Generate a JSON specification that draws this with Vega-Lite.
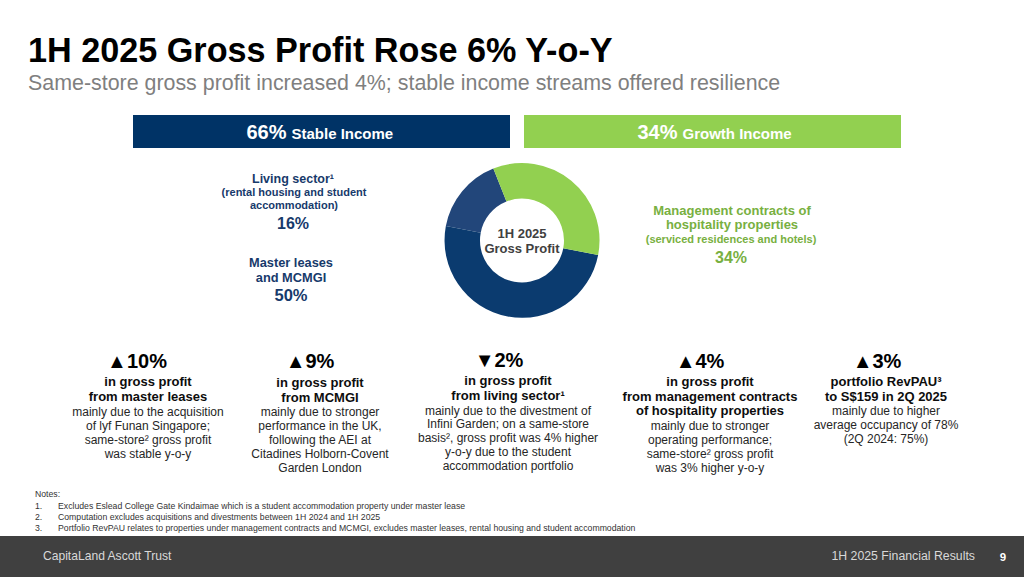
{
  "$schema": "https://vega.github.io/schema/vega-lite/v6.json",
  "width": 1024,
  "height": 577,
  "autosize": {"type": "none"},
  "padding": 0,
  "background": "#ffffff",
  "config": {"view": {"stroke": null}, "font": "Liberation Sans", "text": {"font": "Liberation Sans", "baseline": "alphabetic"}},
  "datasets": {
    "slide": [
      {"part": "title", "text": "1H 2025 Gross Profit Rose 6% Y-o-Y"},
      {"part": "subtitle", "text": "Same-store gross profit increased 4%; stable income streams offered resilience"},
      {"part": "center", "text": ["1H 2025", "Gross Profit"]},
      {"part": "notesHead", "text": "Notes:"},
      {"part": "noteNums", "text": ["1.", "2.", "3."]},
      {"part": "notes", "text": ["Excludes Eslead College Gate Kindaimae which is a student accommodation property under master lease", "Computation excludes acquisitions and divestments between 1H 2024 and 1H 2025", "Portfolio RevPAU relates to properties under management contracts and MCMGI, excludes master leases, rental housing and student accommodation"]},
      {"part": "footerLeft", "text": "CapitaLand Ascott Trust"},
      {"part": "footerRight", "text": "1H 2025 Financial Results"},
      {"part": "page", "text": "9"}
    ],
    "income": [
      {"stream": "Stable Income", "share": 0.66},
      {"stream": "Growth Income", "share": 0.34}
    ],
    "segments": [
      {"segment": "Living sector", "title": ["Living sector¹"], "detail": ["(rental housing and student", "accommodation)"], "share": 0.16},
      {"segment": "Master leases and MCMGI", "title": ["Master leases", "and MCMGI"], "detail": [], "share": 0.50},
      {"segment": "Management contracts of hospitality properties", "title": ["Management contracts of", "hospitality properties"], "detail": ["(serviced residences and hotels)"], "share": 0.34}
    ],
    "drivers": [
      {"metric": "master leases", "change": "▲10%", "headline": ["in gross profit", "from master leases"], "detail": ["mainly due to the acquisition", "of lyf Funan Singapore;", "same-store² gross profit", "was stable y-o-y"]},
      {"metric": "MCMGI", "change": "▲9%", "headline": ["in gross profit", "from MCMGI"], "detail": ["mainly due to stronger", "performance in the UK,", "following the AEI at", "Citadines Holborn-Covent", "Garden London"]},
      {"metric": "living sector", "change": "▼2%", "headline": ["in gross profit", "from living sector¹"], "detail": ["mainly due to the divestment of", "Infini Garden; on a same-store", "basis², gross profit was 4% higher", "y-o-y due to the student", "accommodation portfolio"]},
      {"metric": "management contracts", "change": "▲4%", "headline": ["in gross profit", "from management contracts", "of hospitality properties"], "detail": ["mainly due to stronger", "operating performance;", "same-store² gross profit", "was 3% higher y-o-y"]},
      {"metric": "RevPAU", "change": "▲3%", "headline": ["portfolio RevPAU³", "to S$159 in 2Q 2025"], "detail": ["mainly due to higher", "average occupancy of 78%", "(2Q 2024: 75%)"]}
    ]
  },
  "layer": [
    {
      "data": {"name": "slide"},
      "transform": [{"filter": "datum.part === 'title'"}],
      "mark": {"type": "text", "x": 28, "y": 62, "align": "left", "fontSize": 34.2, "fontWeight": "bold", "color": "#000000"},
      "encoding": {"text": {"field": "text", "type": "nominal"}}
    },
    {
      "data": {"name": "slide"},
      "transform": [{"filter": "datum.part === 'subtitle'"}],
      "mark": {"type": "text", "x": 28, "y": 90, "align": "left", "fontSize": 21.4, "color": "#7f7f7f"},
      "encoding": {"text": {"field": "text", "type": "nominal"}}
    },
    {
      "data": {"name": "income"},
      "mark": {"type": "bar", "y": 115, "y2": 148},
      "encoding": {
        "x": {"field": "stream", "type": "nominal", "sort": ["Stable Income", "Growth Income"], "scale": {"range": [133, 901], "paddingInner": 0.0358, "paddingOuter": 0}, "axis": null},
        "color": {"field": "stream", "type": "nominal", "scale": {"domain": ["Stable Income", "Growth Income"], "range": ["#003366", "#92d050"]}, "legend": null}
      }
    },
    {
      "data": {"name": "income"},
      "mark": {"type": "text", "y": 139, "align": "right", "dx": -35, "fontSize": 20, "fontWeight": "bold", "color": "#ffffff"},
      "encoding": {
        "x": {"field": "stream", "type": "nominal", "sort": ["Stable Income", "Growth Income"], "axis": null},
        "text": {"field": "share", "type": "quantitative", "format": ".0%"}
      }
    },
    {
      "data": {"name": "income"},
      "mark": {"type": "text", "y": 139, "align": "left", "dx": -30, "fontSize": 15, "fontWeight": "bold", "color": "#ffffff"},
      "encoding": {
        "x": {"field": "stream", "type": "nominal", "sort": ["Stable Income", "Growth Income"], "axis": null},
        "text": {"field": "stream", "type": "nominal"}
      }
    },
    {
      "data": {"name": "segments"},
      "mark": {"type": "arc", "innerRadius": 42, "outerRadius": 77.5, "x": 522, "y": 240.5},
      "encoding": {
        "theta": {"field": "share", "type": "quantitative", "stack": true, "scale": {"range": [-1.384, 4.899]}},
        "order": {"field": "share", "type": "quantitative", "sort": "ascending"},
        "color": {"field": "segment", "type": "nominal", "scale": {"domain": ["Living sector", "Master leases and MCMGI", "Management contracts of hospitality properties"], "range": ["#22467a", "#0b3b6f", "#92d050"]}, "legend": null}
      }
    },
    {
      "data": {"name": "slide"},
      "transform": [{"filter": "datum.part === 'center'"}],
      "mark": {"type": "text", "x": 522, "y": 238, "align": "center", "fontSize": 13, "fontWeight": "bold", "lineHeight": 14.5, "color": "#404040"},
      "encoding": {"text": {"field": "text", "type": "nominal"}}
    },
    {
      "data": {"name": "segments"},
      "transform": [{"filter": "datum.segment === 'Living sector'"}],
      "layer": [
        {"mark": {"type": "text", "x": 293, "y": 183, "align": "center", "fontSize": 12.5, "fontWeight": "bold", "color": "#173a6b"}, "encoding": {"text": {"field": "title", "type": "nominal"}}},
        {"mark": {"type": "text", "x": 294, "y": 196, "align": "center", "fontSize": 11, "fontWeight": "bold", "lineHeight": 13, "color": "#173a6b"}, "encoding": {"text": {"field": "detail", "type": "nominal"}}},
        {"mark": {"type": "text", "x": 293, "y": 229, "align": "center", "fontSize": 16, "fontWeight": "bold", "color": "#173a6b"}, "encoding": {"text": {"field": "share", "type": "quantitative", "format": ".0%"}}},
        {"mark": {"type": "rule", "x": 397, "x2": 460, "y": 196.5, "y2": 196.5, "color": "#b0b0b0", "strokeWidth": 1}, "encoding": {}}
      ]
    },
    {
      "data": {"name": "segments"},
      "transform": [{"filter": "datum.segment === 'Master leases and MCMGI'"}],
      "layer": [
        {"mark": {"type": "text", "x": 291, "y": 266.5, "align": "center", "fontSize": 12.8, "fontWeight": "bold", "lineHeight": 15, "color": "#173a6b"}, "encoding": {"text": {"field": "title", "type": "nominal"}}},
        {"mark": {"type": "text", "x": 291, "y": 301, "align": "center", "fontSize": 16.5, "fontWeight": "bold", "color": "#173a6b"}, "encoding": {"text": {"field": "share", "type": "quantitative", "format": ".0%"}}},
        {"mark": {"type": "rule", "x": 373, "x2": 448, "y": 277.5, "y2": 277.5, "color": "#b0b0b0", "strokeWidth": 1}, "encoding": {}}
      ]
    },
    {
      "data": {"name": "segments"},
      "transform": [{"filter": "datum.segment === 'Management contracts of hospitality properties'"}],
      "layer": [
        {"mark": {"type": "text", "x": 732, "y": 215, "align": "center", "fontSize": 13, "fontWeight": "bold", "lineHeight": 14.3, "color": "#78b041"}, "encoding": {"text": {"field": "title", "type": "nominal"}}},
        {"mark": {"type": "text", "x": 731, "y": 243, "align": "center", "fontSize": 11, "fontWeight": "bold", "color": "#78b041"}, "encoding": {"text": {"field": "detail", "type": "nominal"}}},
        {"mark": {"type": "text", "x": 731, "y": 263, "align": "center", "fontSize": 16, "fontWeight": "bold", "color": "#78b041"}, "encoding": {"text": {"field": "share", "type": "quantitative", "format": ".0%"}}},
        {"mark": {"type": "rule", "x": 600, "x2": 632, "y": 225.5, "y2": 225.5, "color": "#b0b0b0", "strokeWidth": 1}, "encoding": {}}
      ]
    },
    {
      "data": {"values": [{"element": "divider"}]},
      "mark": {"type": "rule", "x": 35, "x2": 990, "y": 337.5, "y2": 337.5, "color": "#bfbfbf", "strokeWidth": 1, "strokeDash": [2, 2]},
      "encoding": {}
    },
    {
      "data": {"name": "drivers"},
      "transform": [{"filter": "datum.metric === 'master leases'"}],
      "layer": [
        {"mark": {"type": "text", "x": 137, "y": 368, "align": "center", "fontSize": 20, "fontWeight": "bold", "color": "#000000"}, "encoding": {"text": {"field": "change", "type": "nominal"}}},
        {"mark": {"type": "text", "x": 148, "y": 386, "align": "center", "fontSize": 13, "fontWeight": "bold", "lineHeight": 15, "color": "#0d0d0d"}, "encoding": {"text": {"field": "headline", "type": "nominal"}}},
        {"mark": {"type": "text", "x": 148, "y": 416, "align": "center", "fontSize": 12, "lineHeight": 14, "color": "#262626"}, "encoding": {"text": {"field": "detail", "type": "nominal"}}}
      ]
    },
    {
      "data": {"name": "drivers"},
      "transform": [{"filter": "datum.metric === 'MCMGI'"}],
      "layer": [
        {"mark": {"type": "text", "x": 310, "y": 368, "align": "center", "fontSize": 20, "fontWeight": "bold", "color": "#000000"}, "encoding": {"text": {"field": "change", "type": "nominal"}}},
        {"mark": {"type": "text", "x": 320, "y": 386.5, "align": "center", "fontSize": 13, "fontWeight": "bold", "lineHeight": 15, "color": "#0d0d0d"}, "encoding": {"text": {"field": "headline", "type": "nominal"}}},
        {"mark": {"type": "text", "x": 320, "y": 416, "align": "center", "fontSize": 12, "lineHeight": 14, "color": "#262626"}, "encoding": {"text": {"field": "detail", "type": "nominal"}}}
      ]
    },
    {
      "data": {"name": "drivers"},
      "transform": [{"filter": "datum.metric === 'living sector'"}],
      "layer": [
        {"mark": {"type": "text", "x": 499, "y": 367, "align": "center", "fontSize": 20, "fontWeight": "bold", "color": "#000000"}, "encoding": {"text": {"field": "change", "type": "nominal"}}},
        {"mark": {"type": "text", "x": 508, "y": 385, "align": "center", "fontSize": 13, "fontWeight": "bold", "lineHeight": 15, "color": "#0d0d0d"}, "encoding": {"text": {"field": "headline", "type": "nominal"}}},
        {"mark": {"type": "text", "x": 508, "y": 414.5, "align": "center", "fontSize": 12, "lineHeight": 13.8, "color": "#262626"}, "encoding": {"text": {"field": "detail", "type": "nominal"}}}
      ]
    },
    {
      "data": {"name": "drivers"},
      "transform": [{"filter": "datum.metric === 'management contracts'"}],
      "layer": [
        {"mark": {"type": "text", "x": 700, "y": 368, "align": "center", "fontSize": 20, "fontWeight": "bold", "color": "#000000"}, "encoding": {"text": {"field": "change", "type": "nominal"}}},
        {"mark": {"type": "text", "x": 710, "y": 386, "align": "center", "fontSize": 13, "fontWeight": "bold", "lineHeight": 14.5, "color": "#0d0d0d"}, "encoding": {"text": {"field": "headline", "type": "nominal"}}},
        {"mark": {"type": "text", "x": 710, "y": 429.5, "align": "center", "fontSize": 12, "lineHeight": 14, "color": "#262626"}, "encoding": {"text": {"field": "detail", "type": "nominal"}}}
      ]
    },
    {
      "data": {"name": "drivers"},
      "transform": [{"filter": "datum.metric === 'RevPAU'"}],
      "layer": [
        {"mark": {"type": "text", "x": 877, "y": 368, "align": "center", "fontSize": 20, "fontWeight": "bold", "color": "#000000"}, "encoding": {"text": {"field": "change", "type": "nominal"}}},
        {"mark": {"type": "text", "x": 886, "y": 386, "align": "center", "fontSize": 13, "fontWeight": "bold", "lineHeight": 14.5, "color": "#0d0d0d"}, "encoding": {"text": {"field": "headline", "type": "nominal"}}},
        {"mark": {"type": "text", "x": 886, "y": 415, "align": "center", "fontSize": 12, "lineHeight": 14, "color": "#262626"}, "encoding": {"text": {"field": "detail", "type": "nominal"}}}
      ]
    },
    {
      "data": {"name": "slide"},
      "transform": [{"filter": "datum.part === 'notesHead'"}],
      "mark": {"type": "text", "x": 35, "y": 497, "align": "left", "fontSize": 8.7, "color": "#333333"},
      "encoding": {"text": {"field": "text", "type": "nominal"}}
    },
    {
      "data": {"name": "slide"},
      "transform": [{"filter": "datum.part === 'noteNums'"}],
      "mark": {"type": "text", "x": 35, "y": 509, "align": "left", "fontSize": 8.7, "lineHeight": 11, "color": "#333333"},
      "encoding": {"text": {"field": "text", "type": "nominal"}}
    },
    {
      "data": {"name": "slide"},
      "transform": [{"filter": "datum.part === 'notes'"}],
      "mark": {"type": "text", "x": 58, "y": 509, "align": "left", "fontSize": 8.7, "lineHeight": 11, "color": "#333333"},
      "encoding": {"text": {"field": "text", "type": "nominal"}}
    },
    {
      "data": {"values": [{"element": "footer"}]},
      "mark": {"type": "rect", "x": 0, "x2": 1024, "y": 536, "y2": 577, "color": "#404040"},
      "encoding": {}
    },
    {
      "data": {"name": "slide"},
      "transform": [{"filter": "datum.part === 'footerLeft'"}],
      "mark": {"type": "text", "x": 43, "y": 560, "align": "left", "fontSize": 12.1, "color": "#d9d9d9"},
      "encoding": {"text": {"field": "text", "type": "nominal"}}
    },
    {
      "data": {"name": "slide"},
      "transform": [{"filter": "datum.part === 'footerRight'"}],
      "mark": {"type": "text", "x": 975, "y": 560, "align": "right", "fontSize": 12.3, "color": "#d9d9d9"},
      "encoding": {"text": {"field": "text", "type": "nominal"}}
    },
    {
      "data": {"name": "slide"},
      "transform": [{"filter": "datum.part === 'page'"}],
      "mark": {"type": "text", "x": 1003, "y": 560.5, "align": "center", "fontSize": 11.5, "fontWeight": "bold", "color": "#ffffff"},
      "encoding": {"text": {"field": "text", "type": "nominal"}}
    }
  ],
  "resolve": {"scale": {"color": "independent"}}
}
